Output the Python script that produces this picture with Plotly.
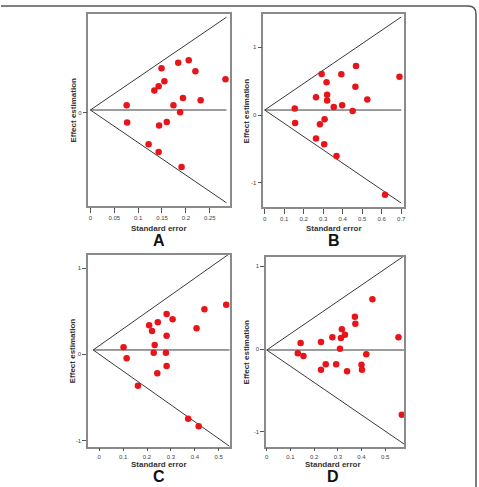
import plotly.graph_objects as go

W, H = 479, 487

# ---------------- data ----------------
panels = ["A", "B", "C", "D"]

se_A = [0.076, 0.077, 0.149, 0.184, 0.206, 0.220, 0.283, 0.134, 0.143, 0.155,
        0.194, 0.174, 0.231, 0.188, 0.160, 0.144, 0.122, 0.143, 0.191]
eff_A = [0.045, -0.060, 0.267, 0.301, 0.316, 0.249, 0.201, 0.133, 0.159, 0.189,
         0.089, 0.045, 0.075, 0.002, -0.056, -0.078, -0.190, -0.237, -0.327]

se_B = [0.154, 0.156, 0.292, 0.317, 0.263, 0.320, 0.320, 0.393, 0.468, 0.465,
        0.526, 0.691, 0.354, 0.397, 0.451, 0.307, 0.283, 0.263, 0.305, 0.368, 0.617]
eff_B = [0.098, -0.118, 0.605, 0.482, 0.261, 0.300, 0.216, 0.600, 0.723, 0.418,
         0.231, 0.565, 0.118, 0.143, 0.059, -0.063, -0.137, -0.344, -0.432, -0.605, -1.175]

se_C = [0.102, 0.115, 0.162, 0.209, 0.221, 0.245, 0.232, 0.228, 0.243, 0.282,
        0.307, 0.282, 0.279, 0.282, 0.407, 0.440, 0.531, 0.372, 0.416]
eff_C = [0.081, -0.046, -0.364, 0.336, 0.270, 0.371, 0.108, 0.019, -0.220, 0.468,
         0.406, 0.216, 0.019, -0.136, 0.302, 0.522, 0.575, -0.747, -0.835]

se_D = [0.131, 0.143, 0.155, 0.229, 0.229, 0.249, 0.277, 0.293, 0.309, 0.313,
        0.317, 0.330, 0.339, 0.372, 0.374, 0.446, 0.400, 0.402, 0.420, 0.556, 0.570]
eff_D = [-0.052, 0.072, -0.085, 0.085, -0.250, -0.185, 0.141, -0.185, 0.004, 0.133,
         0.238, 0.173, -0.269, 0.390, 0.306, 0.600, -0.190, -0.250, -0.064, 0.141, -0.793]

# pooled estimate, funnel apex SE and funnel end SE for each panel
pooled = [0.016, 0.074, 0.050, -0.012]
apex_se = [0.0, 0.0, -0.025, 0.0]
end_se = [0.285, 0.700, 0.545, 0.580]
z_value = 1.96

x_ticks_A = [0, 0.05, 0.1, 0.15, 0.2, 0.25]
x_ticks_B = [0, 0.1, 0.2, 0.3, 0.4, 0.5, 0.6, 0.7]
x_ticks_C = [0, 0.1, 0.2, 0.3, 0.4, 0.5]
x_ticks_D = [0, 0.1, 0.2, 0.3, 0.4, 0.5]
y_ticks_A = [0]
y_ticks_B = [-1, 0, 1]
y_ticks_C = [-1, 0, 1]
y_ticks_D = [-1, 0, 1]

x_ranges = [[-0.004, 0.293], [-0.007, 0.715], [-0.046, 0.548], [-0.003, 0.580]]
y_ranges = [[-0.562, 0.594], [-1.36, 1.49], [-1.072, 1.155], [-1.18, 1.115]]

# ---------------- layout geometry (pixels) ----------------
boxes = {  # left, top, right, bottom
    "A": (88, 14, 230.7, 206),
    "B": (264, 14, 405.7, 207.3),
    "C": (87.7, 254.7, 230.7, 446.7),
    "D": (266.7, 256.7, 405.7, 446.7),
}
label_pos = {  # x centre, y of "Standard error", y of letter, x of y-title, x tick length
    "A": (159, 228, 240, 72, 5),
    "B": (335, 228.3, 240.7, 247.3, 5),
    "C": (159, 464.5, 476.5, 72, 3),
    "D": (334.3, 464.5, 476.5, 247.3, 3),
}

def px(x):
    return x / W

def py(y):
    return 1 - y / H

ses = [se_A, se_B, se_C, se_D]
effs = [eff_A, eff_B, eff_C, eff_D]
xticks = [x_ticks_A, x_ticks_B, x_ticks_C, x_ticks_D]
yticks = [y_ticks_A, y_ticks_B, y_ticks_C, y_ticks_D]

fig = go.Figure()
layout = dict(
    width=W, height=H,
    margin=dict(l=0, r=0, t=0, b=0, pad=0),
    paper_bgcolor="white", plot_bgcolor="white",
    showlegend=False,
    font=dict(family="Liberation Sans, Arial, sans-serif", color="#333"),
)

axis_col = "#8a8a8a"
annotations = []
for i, p in enumerate(panels):
    k = "" if i == 0 else str(i + 1)
    l, t, r, b = boxes[p]
    cx, ey, ly, ytx, tlen = label_pos[p]
    xa = dict(
        domain=[px(l), px(r)], range=x_ranges[i], anchor="y" + k,
        showgrid=False, zeroline=False, showline=True, mirror=True,
        linecolor=axis_col, linewidth=1.5,
        ticks="outside", ticklen=tlen, tickwidth=1, tickcolor="#555",
        tickvals=xticks[i], ticktext=[f"{v:g}" for v in xticks[i]],
        tickfont=dict(size=6, color="#444"),
    )
    ya = dict(
        domain=[py(b), py(t)], range=y_ranges[i], anchor="x" + k,
        showgrid=False, zeroline=False, showline=True, mirror=True,
        linecolor=axis_col, linewidth=1.5,
        ticks="outside", ticklen=4, tickwidth=1, tickcolor="#555",
        tickvals=yticks[i], ticktext=[f"{v:g}" for v in yticks[i]],
        tickfont=dict(size=6, color="#444"),
    )
    layout["xaxis" + k] = xa
    layout["yaxis" + k] = ya

    # funnel lines
    a, e, m = apex_se[i], end_se[i], pooled[i]
    fx = [a, e, None, a, e, None, a, e]
    fy = [m, m, None, m, m + z_value * (e - a), None, m, m - z_value * (e - a)]
    fig.add_trace(go.Scatter(x=fx, y=fy, mode="lines", xaxis="x" + k, yaxis="y" + k,
                             line=dict(color="#3a3a3a", width=1), hoverinfo="skip"))
    fig.add_trace(go.Scatter(x=ses[i], y=effs[i], mode="markers", xaxis="x" + k, yaxis="y" + k,
                             marker=dict(color="#e8141a", size=6.5, line=dict(width=0))))

    annotations.append(dict(text="<b>Standard error</b>", x=px(cx), y=py(ey), xref="paper", yref="paper",
                            showarrow=False, font=dict(size=8, color="#333"), xanchor="center",
                            yanchor="middle", borderpad=0))
    annotations.append(dict(text="<b>" + p + "</b>", x=px(cx), y=py(ly), xref="paper", yref="paper",
                            showarrow=False, font=dict(size=16, color="#111"), xanchor="center",
                            yanchor="middle", borderpad=0))
    annotations.append(dict(text="<b>Effect estimation</b>", x=px(ytx), y=py((t + b) / 2), xref="paper", yref="paper",
                            showarrow=False, textangle=-90, font=dict(size=8, color="#333"),
                            xanchor="center", yanchor="middle", borderpad=0))

layout["annotations"] = annotations

# outer frame (top and right edges with rounded corner)
rad = 8
path = (f"M 0 {py(6)} L {px(478 - rad)} {py(6)} "
        f"Q {px(478)} {py(6)} {px(478)} {py(6 + rad)} L {px(478)} 0")
layout["shapes"] = [dict(type="path", path=path, xref="paper", yref="paper",
                         line=dict(color="#555", width=1.5))]

fig.update_layout(**layout)
fig.write_html("out.html")
